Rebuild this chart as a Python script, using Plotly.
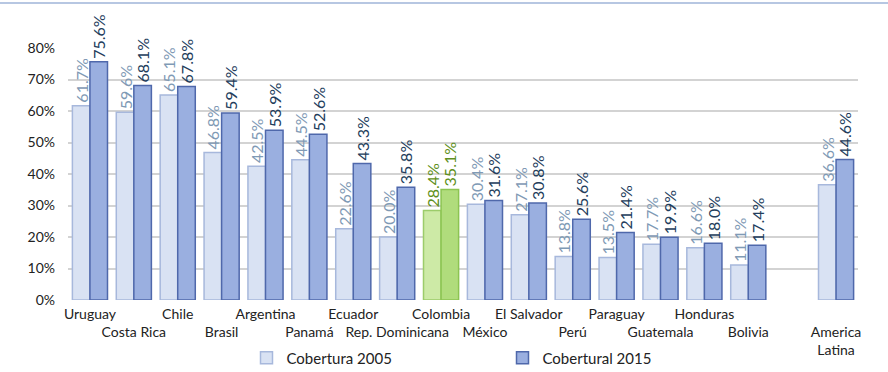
import plotly.graph_objects as go

countries = ["Uruguay", "Costa Rica", "Chile", "Brasil", "Argentina", "Panamá", "Ecuador",
             "Rep. Dominicana", "Colombia", "México", "El Salvador", "Perú", "Paraguay",
             "Guatemala", "Honduras", "Bolivia", "", "America<br>Latina"]
cob2005 = [61.7, 59.6, 65.1, 46.8, 42.5, 44.5, 22.6, 20.0, 28.4, 30.4, 27.1, 13.8, 13.5,
           17.7, 16.6, 11.1, None, 36.6]
cob2015 = [75.6, 68.1, 67.8, 59.4, 53.9, 52.6, 43.3, 35.8, 35.1, 31.6, 30.8, 25.6, 21.4,
           19.9, 18.0, 17.4, None, 44.6]
y_ticks = [0, 10, 20, 30, 40, 50, 60, 70, 80]
highlight = "Colombia"

pos = list(range(len(countries)))
v05 = [None if v is None else v / 100 for v in cob2005]
v15 = [None if v is None else v / 100 for v in cob2015]
t05 = ["" if v is None else f"{v:.1f}%" for v in cob2005]
t15 = ["" if v is None else f"{v:.1f}%" for v in cob2015]

def pick(c, normal, special):
    return special if c == highlight else normal

fill05 = [pick(c, "#d9e2f3", "#cdeaa6") for c in countries]
line05 = [pick(c, "#a7b8dc", "#9ccc6a") for c in countries]
fill15 = [pick(c, "#9aafe0", "#b0dc7c") for c in countries]
line15 = [pick(c, "#4f68ab", "#8cc452") for c in countries]
tc05 = [pick(c, "#7f9ab5", "#5f9020") for c in countries]
tc15 = [pick(c, "#233d5c", "#5f9020") for c in countries]

ticktext = [(c if i % 2 == 0 else "<br>" + c) for i, c in enumerate(countries)]

FONT = "Lato, 'Open Sans', sans-serif"

fig = go.Figure()
fig.add_trace(go.Bar(
    x=pos, y=v05, name="Cobertura 2005",
    marker=dict(color=fill05, line=dict(color=line05, width=1.5)),
    text=t05, textposition="outside", textangle=-90, cliponaxis=False,
    constraintext="none",
    textfont=dict(color=tc05, size=16, family=FONT),
))
fig.add_trace(go.Bar(
    x=pos, y=v15, name="Cobertural 2015",
    marker=dict(color=fill15, line=dict(color=line15, width=1.5)),
    text=t15, textposition="outside", textangle=-90, cliponaxis=False,
    constraintext="none",
    textfont=dict(color=tc15, size=16, family=FONT),
))

ph = 252
fig.add_shape(type="line", xref="paper", yref="paper",
              x0=-68 / 790, x1=(888 - 68) / 790, y0=(ph + 45) / ph, y1=(ph + 45) / ph,
              line=dict(color="#9fb4d8", width=1.5))

fig.update_layout(
    width=888, height=372,
    margin=dict(l=68, r=30, t=48, b=72),
    paper_bgcolor="white", plot_bgcolor="white",
    barmode="group", bargap=0.2, bargroupgap=0.0,
    font=dict(family=FONT, size=14, color="#222222"),
    showlegend=True,
    legend=dict(orientation="h", x=0.55, xanchor="center", xref="paper",
                y=14 / 372, yanchor="middle", yref="container",
                font=dict(size=15, color="#222222"), entrywidth=211,
                itemwidth=30, traceorder="normal"),
    xaxis=dict(range=[-0.5, len(countries) - 0.5], tickmode="array", tickvals=pos,
               ticktext=ticktext, showgrid=False, zeroline=False, showline=False,
               ticks="", tickangle=0, automargin=False, ticklabelstandoff=4,
               tickfont=dict(size=14, color="#222222")),
    yaxis=dict(range=[0, 0.8], tickmode="array", tickvals=[t / 100 for t in y_ticks],
               ticktext=[f"{t}%" for t in y_ticks], showgrid=True, automargin=False,
               gridcolor="#d3d3d3", gridwidth=1.5, zeroline=False, showline=False,
               ticklabelstandoff=12, tickfont=dict(size=14, color="#222222")),
)

fig.write_html("out.html")
